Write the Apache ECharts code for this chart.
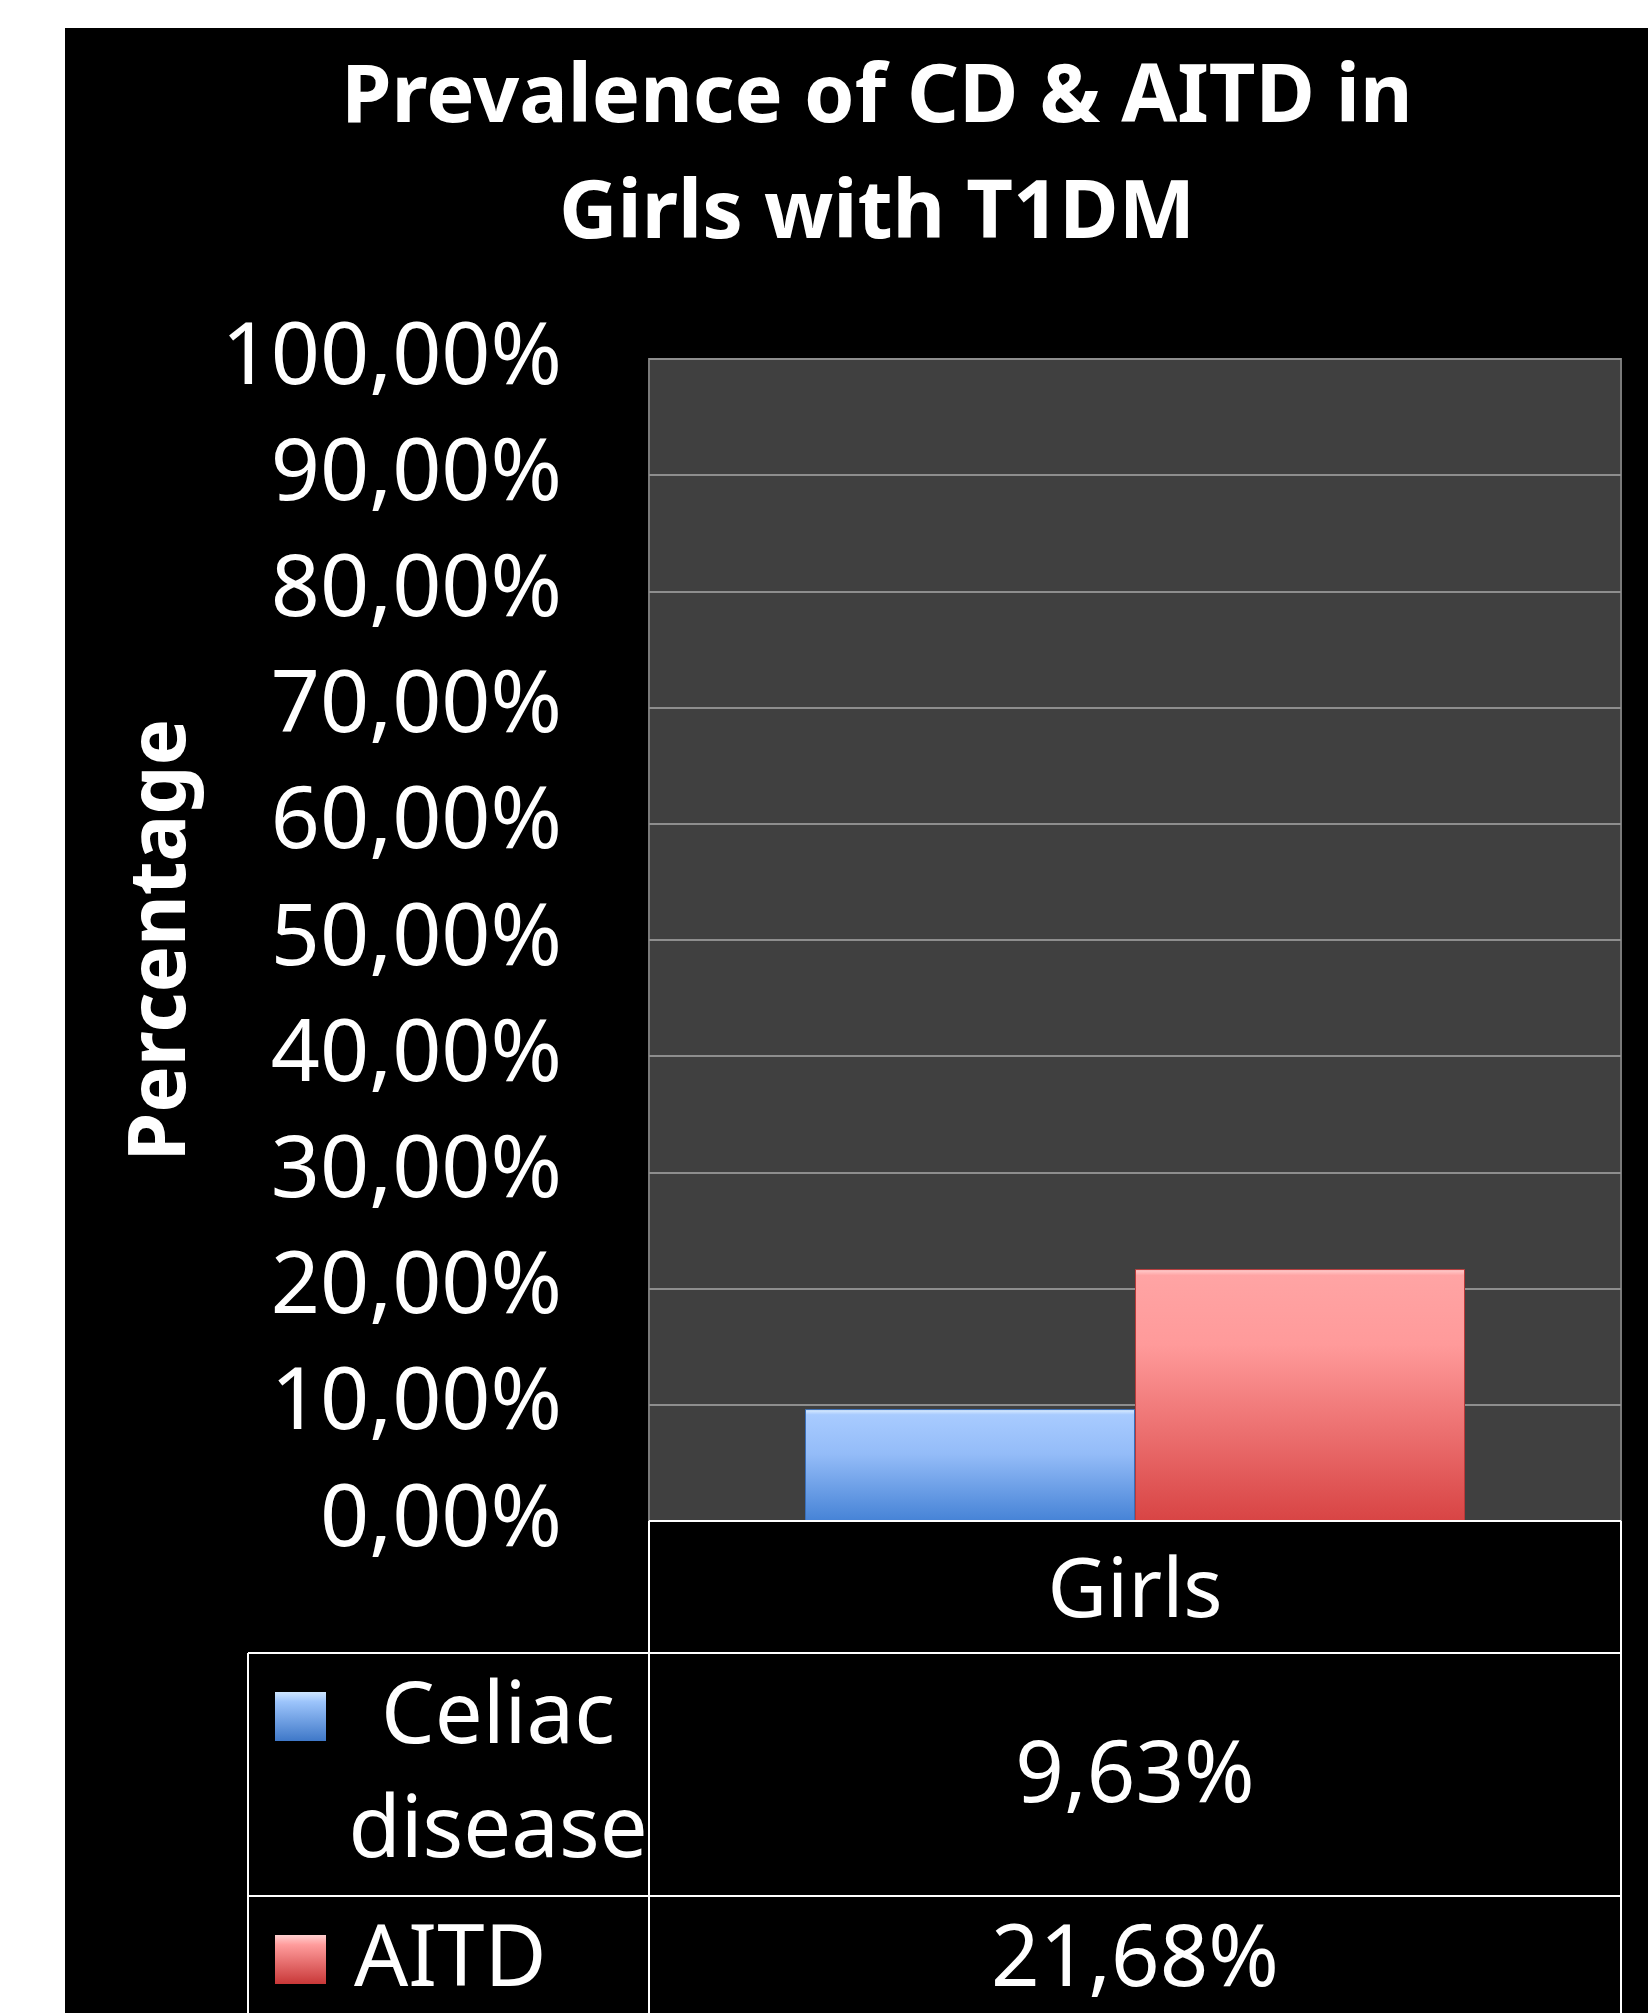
<!DOCTYPE html>
<html>
<head>
<meta charset="utf-8">
<script src="https://cdn.jsdelivr.net/npm/echarts@6/dist/echarts.min.js"></script>
<style>
  html, body { margin:0; padding:0; background:#ffffff; }
  #bg { position:absolute; left:65px; top:28px; width:1583px; height:1985px; background:#000000; }
  #chart { position:absolute; left:0; top:0; width:1648px; height:2013px; }
</style>
</head>
<body>
<div id="bg"></div>
<div id="chart"></div>
<script>
// ---- data ----
const titleLines = ['Prevalence of CD & AITD in', 'Girls with T1DM'];
const categories = ['Girls'];
const seriesNames = ['Celiac disease', 'AITD'];
const celiacValues = [9.63];
const aitdValues = [21.68];
const yTickLabels = ['0,00%','10,00%','20,00%','30,00%','40,00%','50,00%','60,00%','70,00%','80,00%','90,00%','100,00%'];
const yAxisName = 'Percentage';
const legendLines = { 'Celiac disease': 'Celiac\ndisease', 'AITD': 'AITD' };

// ---- layout ----
const G = { left: 649, top: 359, width: 972, height: 1162 };
const gRight = G.left + G.width, gBottom = G.top + G.height;
const tableLeft = 248, row1Bottom = 1653, row2Bottom = 1896, pageBottom = 2013;
const FONT = 'Noto Sans';
const TFS = 85;

function fmt(v) { return v.toFixed(2).replace('.', ',') + '%'; }

const blueGrad = new echarts.graphic.LinearGradient(0, 0, 0, 1, [
  { offset: 0, color: '#e2f1ff' }, { offset: 0.05, color: '#a8cbff' },
  { offset: 0.4, color: '#94bcf8' }, { offset: 1, color: '#4683d6' }]);
const redGrad = new echarts.graphic.LinearGradient(0, 0, 0, 1, [
  { offset: 0, color: '#ffd2d2' }, { offset: 0.025, color: '#ffa4a4' },
  { offset: 0.3, color: '#ff9a9a' }, { offset: 1, color: '#d84444' }]);
const blueSq = new echarts.graphic.LinearGradient(0, 0, 0, 1, [
  { offset: 0, color: '#cfe6ff' }, { offset: 0.2, color: '#9cc4fb' }, { offset: 1, color: '#3f78c8' }]);
const redSq = new echarts.graphic.LinearGradient(0, 0, 0, 1, [
  { offset: 0, color: '#ffd0d0' }, { offset: 0.2, color: '#ff9c9c' }, { offset: 1, color: '#c83838' }]);

const chart = echarts.init(document.getElementById('chart'), null, { renderer: 'canvas' });

const white = '#ffffff';
const lw = 2;
function line(x1, y1, x2, y2) {
  return { type: 'line', shape: { x1, y1, x2, y2 }, style: { stroke: white, lineWidth: lw }, z: 10 };
}
const colCenter = G.left + G.width / 2;
const allSeries = [
  { name: seriesNames[0], data: celiacValues, sq: blueSq },
  { name: seriesNames[1], data: aitdValues, sq: redSq }
];
const graphics = [
  line(G.left, gBottom, gRight, gBottom),
  line(G.left, gBottom, G.left, pageBottom),
  line(gRight, gBottom, gRight, pageBottom),
  line(tableLeft, row1Bottom, gRight, row1Bottom),
  line(tableLeft, row2Bottom, gRight, row2Bottom),
  line(tableLeft, row1Bottom, tableLeft, pageBottom)
];
allSeries.forEach((s, i) => {
  const cy = i === 0 ? 1776 : 1962;
  const sqY = i === 0 ? 1692 : 1935;
  graphics.push({ type: 'rect', shape: { x: 275, y: sqY, width: 51, height: 49 }, style: { fill: s.sq }, z: 10 });
  const lbl = legendLines[s.name];
  if (lbl.indexOf('\n') >= 0) {
    graphics.push({ type: 'text', x: 498, y: cy, z: 10,
      style: { text: lbl, fill: white, font: TFS + 'px "' + FONT + '"', align: 'center', verticalAlign: 'middle', lineHeight: 114 } });
  } else {
    graphics.push({ type: 'text', x: 354, y: cy, z: 10,
      style: { text: lbl, fill: white, font: TFS + 'px "' + FONT + '"', align: 'left', verticalAlign: 'middle' } });
  }
  graphics.push({ type: 'text', x: colCenter, y: i === 0 ? 1778 : 1962, z: 10,
    style: { text: fmt(s.data[0]), fill: white, font: TFS + 'px "' + FONT + '"', align: 'center', verticalAlign: 'middle' } });
});

const option = {
  animation: false,
  title: {
    text: titleLines.join('\n'),
    left: 872, top: 36, textAlign: 'center',
    textStyle: { color: white, fontFamily: FONT, fontWeight: 'bold', fontSize: 81, lineHeight: 116 }
  },
  grid: { left: G.left, top: G.top, width: G.width, height: G.height, show: true,
    backgroundColor: '#404040', borderColor: '#7a7a7a', borderWidth: 2, containLabel: false },
  xAxis: {
    type: 'category', data: categories,
    axisLine: { show: false }, axisTick: { show: false },
    axisLabel: { color: white, fontFamily: FONT, fontSize: 82, margin: 73, verticalAlign: 'middle' }
  },
  yAxis: {
    type: 'value', min: 0, max: 100, interval: 10,
    name: yAxisName, nameLocation: 'middle', nameGap: 447, nameRotate: 90,
    nameTextStyle: { color: white, fontFamily: FONT, fontWeight: 'bold', fontSize: 78 },
    axisLine: { show: false }, axisTick: { show: false },
    axisLabel: { color: white, fontFamily: FONT, fontSize: 86, margin: 87,
      formatter: v => yTickLabels[Math.round(v / 10)] },
    splitLine: { lineStyle: { color: '#8e8e8e', width: 2 } }
  },
  series: [
    { type: 'bar', name: seriesNames[0], data: celiacValues, barWidth: 330, barGap: '0%',
      itemStyle: { color: blueGrad, borderColor: '#3a6fb8', borderWidth: 1 } },
    { type: 'bar', name: seriesNames[1], data: aitdValues, barWidth: 330, barGap: '0%',
      itemStyle: { color: redGrad, borderColor: '#b83a3a', borderWidth: 1 } }
  ],
  graphic: graphics
};
chart.setOption(option);
</script>
</body>
</html>
